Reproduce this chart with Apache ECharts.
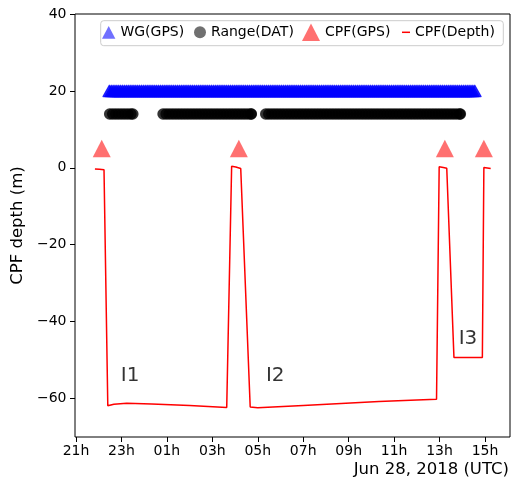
<!DOCTYPE html>
<html><head><meta charset="utf-8">
<script src="https://cdn.jsdelivr.net/npm/echarts@6/dist/echarts.min.js"></script>
<style>html,body{margin:0;padding:0;background:#fff}#c{width:515px;height:482px}</style>
</head><body><div id="c"></div>
<script>
// all times: minutes since 21:00 UTC, Jun 27, 2018
const xTickMin = [0, 120, 240, 360, 480, 600, 720, 840, 960, 1080];
const xTickLabels = ['21h', '23h', '01h', '03h', '05h', '07h', '09h', '11h', '13h', '15h'];
const yTicks = [-60, -40, -20, 0, 20, 40];

// WG(GPS) fixes, plotted at level 20
const wgGpsLevel = 20;
const wgGpsMin = [88, 93, 98, 103, 108, 113, 118, 123, 128, 133, 138, 143, 148, 153, 158, 163, 168, 173, 178, 183, 188, 193, 198, 203, 208, 213, 218, 223, 228, 233, 238, 243, 248, 253, 258, 263, 268, 273, 278, 283, 288, 293, 298, 303, 308, 313, 318, 323, 328, 333, 338, 343, 348, 353, 358, 363, 368, 373, 378, 383, 388, 393, 398, 403, 408, 413, 418, 423, 428, 433, 438, 443, 448, 453, 458, 463, 468, 473, 478, 483, 488, 493, 498, 503, 508, 513, 518, 523, 528, 533, 538, 543, 548, 553, 558, 563, 568, 573, 578, 583, 588, 593, 598, 603, 608, 613, 618, 623, 628, 633, 638, 643, 648, 653, 658, 663, 668, 673, 678, 683, 688, 693, 698, 703, 708, 713, 718, 723, 728, 733, 738, 743, 748, 753, 758, 763, 768, 773, 778, 783, 788, 793, 798, 803, 808, 813, 818, 823, 828, 833, 838, 843, 848, 853, 858, 863, 868, 873, 878, 883, 888, 893, 898, 903, 908, 913, 918, 923, 928, 933, 938, 943, 948, 953, 958, 963, 968, 973, 978, 983, 988, 993, 998, 1003, 1008, 1013, 1018, 1023, 1028, 1033, 1038, 1043, 1048, 1053];

// Range(DAT) records, plotted at level 14
const rangeLevel = 14;
const rangeMin = [89, 97, 105, 113, 121, 129, 137, 145, 150,
  230, 238, 246, 254, 262, 270, 278, 286, 294, 302, 310, 318, 326, 334, 342, 350, 358, 366, 374, 382, 390, 398, 406, 414, 422, 430, 438, 446, 454, 462, 463,
  501, 509, 517, 525, 533, 541, 549, 557, 565, 573, 581, 589, 597, 605, 613, 621, 629, 637, 645, 653, 661, 669, 677, 685, 693, 701, 709, 717, 725, 733, 741, 749, 757, 765, 773, 781, 789, 797, 805, 813, 821, 829, 837, 845, 853, 861, 869, 877, 885, 893, 901, 909, 917, 925, 933, 941, 949, 957, 965, 973, 981, 989, 997, 1005, 1013, 1015];

// CPF(GPS) fixes, plotted at level 5
const cpfGpsLevel = 5;
const cpfGpsMin = [68, 430, 974, 1077];

// CPF depth record
const cpfDepthMin = [50, 62, 74, 84, 100, 134, 200, 300, 398, 400, 411, 422, 435, 460, 480, 520, 600, 700, 800, 900, 952, 959, 970, 979, 998, 1073, 1077, 1095];
const cpfDepthM   = [-0.3, -0.4, -0.5, -61.9, -61.5, -61.2, -61.4, -61.8, -62.3, -62.1, 0.4, 0.2, -0.2, -62.2, -62.4, -62.2, -61.8, -61.3, -60.8, -60.4, -60.2, 0.3, 0.1, -0.1, -49.3, -49.3, 0.1, -0.2];

// dive labels
const diveNames = ['I1', 'I2', 'I3'];
const diveLabelMin = [143, 526, 1035];
const diveLabelM = [-54.2, -54.2, -44.4];

const FONT = 'DejaVu Sans';
const chart = echarts.init(document.getElementById('c'), null, {renderer: 'canvas'});
const txt = {fontFamily: FONT, fontSize: 14, color: '#000', lineHeight: 16};

chart.setOption({
  animation: false,
  backgroundColor: '#fff',
  title: {
    text: 'Jun 28, 2018 (UTC)', right: 6, top: 460, padding: 0,
    textStyle: {fontFamily: FONT, fontSize: 16.5, fontWeight: 'normal', color: '#000', lineHeight: 19}
  },
  grid: {left: 75, top: 14, width: 435, height: 423, show: true, borderColor: '#000', borderWidth: 1, backgroundColor: 'transparent', containLabel: false, outerBoundsMode: 'none'},
  graphic: [{
    type: 'rect', z: 5, silent: true,
    shape: {x: 100.7, y: 20.7, width: 402.6, height: 25, r: 3},
    style: {fill: 'rgba(255,255,255,0.8)', stroke: '#cccccc', lineWidth: 1}
  }],
  legend: [
    {data: [{name: 'WG(GPS)', itemStyle: {color: 'rgba(0,0,255,0.7)', borderWidth: 0}}], left: 102, top: 24.3, padding: 0, itemWidth: 13.4, itemHeight: 12.7, icon: 'triangle', symbolKeepAspect: false, textStyle: txt, z: 10},
    {data: [{name: 'Range(DAT)', itemStyle: {color: 'rgba(0,0,0,0.7)'}}], left: 194, top: 24.3, padding: 0, itemWidth: 12, itemHeight: 12, icon: 'circle', textStyle: txt, z: 10},
    {data: ['CPF(GPS)'], left: 302, top: 23.5, padding: 0, itemWidth: 18, itemHeight: 17.5, icon: 'triangle', symbolKeepAspect: false, textStyle: txt, z: 10},
    {data: ['CPF(Depth)'], left: 402, top: 24.3, padding: 0, itemWidth: 8, itemHeight: 1.5, icon: 'rect', textStyle: txt, z: 10}
  ],
  xAxis: {
    type: 'value', min: -2.6, max: 1146,
    axisLine: {show: false, onZero: false},
    splitLine: {show: false},
    axisTick: {show: true, length: 5, customValues: xTickMin, lineStyle: {color: '#000', width: 1}},
    axisLabel: {
      customValues: xTickMin, margin: 7, fontFamily: FONT, fontSize: 14, color: '#000',
      formatter: v => { const i = xTickMin.indexOf(v); return i >= 0 ? xTickLabels[i] : ''; }
    }
  },
  yAxis: {
    type: 'value', min: -70, max: 40,
    name: 'CPF depth (m)', nameLocation: 'middle', nameGap: 42,
    nameTextStyle: {fontFamily: FONT, fontSize: 16.5, color: '#000'},
    axisLine: {show: false, onZero: false},
    splitLine: {show: false},
    axisTick: {show: true, length: 5, customValues: yTicks, lineStyle: {color: '#000', width: 1}},
    axisLabel: {
      customValues: yTicks, margin: 8.5, fontFamily: FONT, fontSize: 14, color: '#000',
      formatter: v => v < 0 ? '\u2212' + (-v) : String(v)
    }
  },
  series: [
    {
      name: 'WG(GPS)', type: 'scatter', silent: true,
      symbol: 'triangle', symbolSize: [12.6, 11.4],
      itemStyle: {color: '#0000ff', borderColor: '#0000ff', borderWidth: 1.2, borderJoin: 'round'},
      data: wgGpsMin.map(t => [t, wgGpsLevel])
    },
    {
      name: 'Range(DAT)', type: 'scatter', silent: true,
      symbol: 'circle', symbolSize: 11.5,
      itemStyle: {color: '#000000'},
      data: rangeMin.map(t => [t, rangeLevel])
    },
    {
      name: 'CPF(GPS)', type: 'scatter', silent: true,
      symbol: 'triangle', symbolSize: [18, 17.5],
      itemStyle: {color: 'rgba(255,0,0,0.7)'},
      data: cpfGpsMin.map(t => [t, cpfGpsLevel])
    },
    {
      name: 'CPF(Depth)', type: 'line', silent: true, showSymbol: false, symbol: 'none',
      lineStyle: {color: '#ff0000', width: 1.5}, itemStyle: {color: '#ff0000'},
      data: cpfDepthMin.map((t, i) => [t, cpfDepthM[i]])
    },
    {
      name: 'labels', type: 'scatter', silent: true, symbolSize: 1,
      itemStyle: {color: 'rgba(0,0,0,0)'},
      label: {show: true, position: 'inside', formatter: p => diveNames[p.dataIndex], fontFamily: FONT, fontSize: 20, color: '#000'},
      data: diveLabelMin.map((t, i) => [t, diveLabelM[i]])
    }
  ]
});
</script></body></html>
